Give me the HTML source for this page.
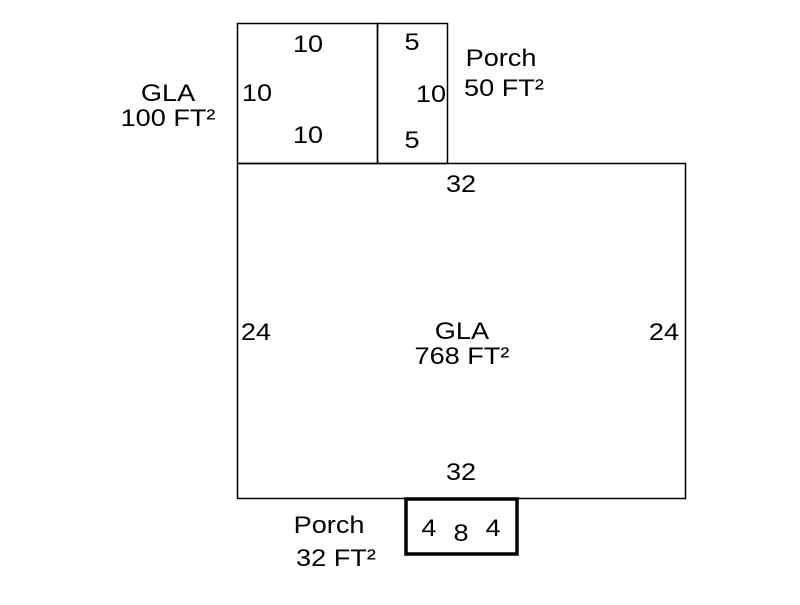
<!DOCTYPE html>
<html><head><style>
body{margin:0;width:800px;height:600px;background:#fff;overflow:hidden}
svg text{font-family:"Liberation Sans",Arial,sans-serif;font-size:24px;fill:#000}
</style></head><body>
<svg width="800" height="600" viewBox="0 0 800 600">
<g fill="none" stroke="#000" stroke-width="1.5">
<rect x="237.5" y="23.5" width="140" height="140"/>
<rect x="377.5" y="23.5" width="70" height="140"/>
<rect x="237.5" y="163.5" width="448" height="335"/>
</g>
<rect x="406" y="499" width="111" height="55" fill="#fff" stroke="#000" stroke-width="3.5"/>
<g text-anchor="middle" transform="scale(1.13,1)">
<text x="272.6" y="52">10</text>
<text x="227.4" y="101">10</text>
<text x="272.6" y="143">10</text>
<text x="364.6" y="50">5</text>
<text x="381.4" y="102">10</text>
<text x="364.6" y="148">5</text>
<text x="148.7" y="101">GLA</text>
<text x="148.7" y="126">100 FT²</text>
<text x="443.4" y="66">Porch</text>
<text x="446" y="96">50 FT²</text>
<text x="408" y="192">32</text>
<text x="226.5" y="340">24</text>
<text x="587.6" y="340">24</text>
<text x="408.8" y="339">GLA</text>
<text x="408.8" y="364">768 FT²</text>
<text x="408" y="480">32</text>
<text x="291.2" y="533">Porch</text>
<text x="297.3" y="566">32 FT²</text>
<text x="379.6" y="536">4</text>
<text x="408" y="541">8</text>
<text x="436.3" y="536">4</text>
</g>
</svg>
</body></html>
